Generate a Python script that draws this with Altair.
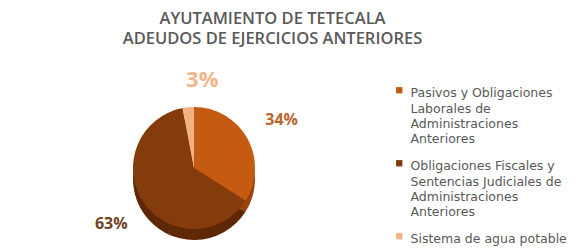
import altair as alt
import pandas as pd

# Data
categories = [
    "Pasivos y Obligaciones|Laborales de|Administraciones|Anteriores",
    "Obligaciones Fiscales y|Sentencias Judiciales de|Administraciones|Anteriores",
    "Sistema de agua potable",
]
shares = [34, 63, 3]
top_colors = ["#C55A11", "#843C0C", "#F4B183"]
side_colors = ["#9A4209", "#5E2807", "#D9976A"]
label_colors = ["#B8682E", "#6E4322", "#F2B68C"]

df = pd.DataFrame({"category": categories, "share": shares, "idx": list(range(len(shares)))})

W, H = 565, 183
CX, CY = 186, 110
R = 61
DEPTH = 11

base = alt.Chart(df).encode(
    theta=alt.Theta("share:Q", stack=True),
    order=alt.Order("idx:Q"),
)

side = base.mark_arc(outerRadius=R, stroke=None).encode(
    color=alt.Color("category:N", scale=alt.Scale(domain=categories, range=side_colors), legend=None),
    x=alt.value(CX), y=alt.value(CY + DEPTH),
)

top = base.mark_arc(outerRadius=R, stroke=None).encode(
    color=alt.Color(
        "category:N",
        scale=alt.Scale(domain=categories, range=top_colors),
        sort=categories,
        legend=alt.Legend(
            title=None,
            orient="none",
            legendX=385,
            legendY=26,
            symbolType="square",
            symbolSize=40,
            symbolStrokeWidth=0,
            labelExpr="split(datum.label, '|')",
            labelFont="DejaVu Sans",
            labelFontSize=12.5,
            labelColor="#595959",
            labelLimit=300,
            labelBaseline="top",
            labelOffset=5,
            rowPadding=11,
            padding=0,
        ),
    ),
    x=alt.value(CX), y=alt.value(CY),
)

label_enc = dict(
    text=alt.Text("pct:N"),
    color=alt.Color("category:N", scale=alt.Scale(domain=categories, range=label_colors), legend=None),
    x=alt.value(CX), y=alt.value(CY),
)

labels_big = base.mark_text(radius=100, font="Open Sans", fontWeight="bold", fontSize=16).encode(
    **label_enc
).transform_calculate(pct="datum.share + '%'").transform_filter("datum.share >= 10")

labels_small = base.mark_text(radius=88, font="Open Sans", fontWeight="bold", fontSize=22).encode(
    **label_enc
).transform_calculate(pct="datum.share + '%'").transform_filter("datum.share < 10")

chart = alt.layer(side, top, labels_big, labels_small).resolve_scale(color="independent").properties(
    width=W,
    height=H,
    autosize=alt.AutoSizeParams(type="none"),
    padding={"left": 0, "top": 50, "right": 0, "bottom": 8},
    title=alt.Title(
        ["AYUTAMIENTO DE TETECALA", "ADEUDOS DE EJERCICIOS ANTERIORES"],
        font="Open Sans",
        fontSize=16.5,
        fontWeight=600,
        color="#595959",
        anchor="middle",
        dx=-18,
        offset=11,
        lineHeight=20,
    ),
).configure(
    style={"guide-label": {"lineHeight": 15.3, "dy": -3}},
    view=alt.ViewConfig(stroke=None),
)

chart.save("out.html", embed_options={"renderer": "svg", "actions": False})
